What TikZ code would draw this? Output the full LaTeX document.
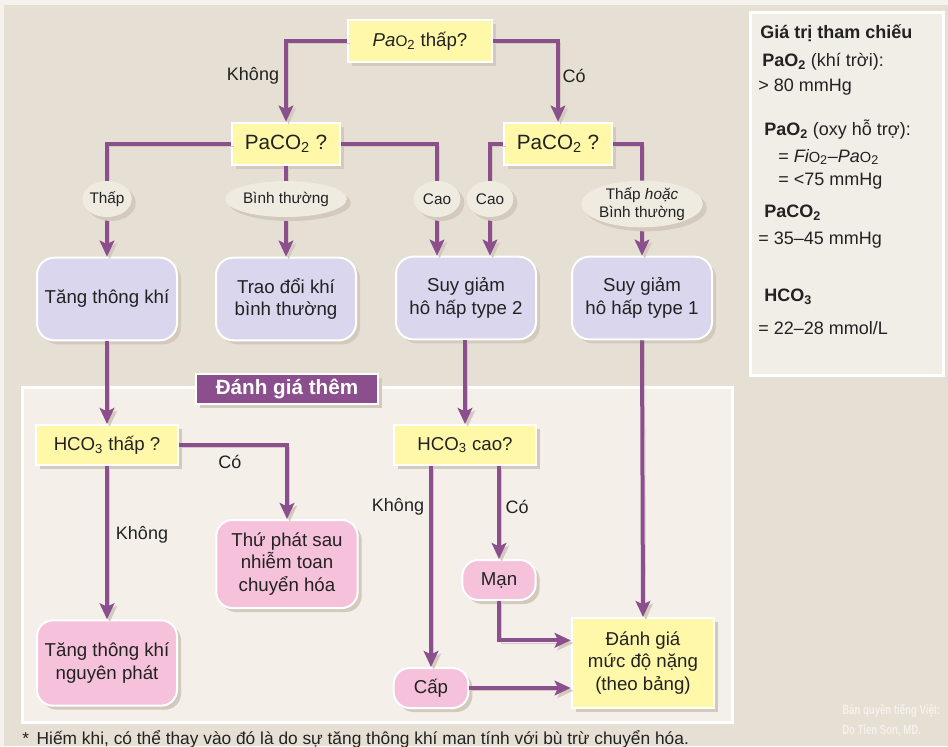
\documentclass[tikz,border=0pt]{standalone}
\usepackage{fontspec}
\setmainfont{Liberation Sans}
\usetikzlibrary{shapes.geometric,arrows.meta,shadows,calc}
\definecolor{bg}{HTML}{E6DFD3}
\definecolor{panel}{HTML}{F4EFE8}
\definecolor{pur}{HTML}{8C4F8E}
\definecolor{yel}{HTML}{FFF8A8}
\definecolor{lav}{HTML}{D9D6EE}
\definecolor{pnk}{HTML}{F6C1DA}
\definecolor{ellc}{HTML}{EFEBE1}
\definecolor{shdc}{HTML}{D3CABD}
\definecolor{refc}{HTML}{F1EDE7}
\definecolor{txt}{HTML}{222222}
\begin{document}
\begin{tikzpicture}[x=0.75pt,y=-0.75pt,
  every node/.style={text=txt},
  shd/.style={drop shadow={shadow xshift=3pt,shadow yshift=-3pt,fill=shdc,opacity=1}},
  ybox/.style={rectangle,fill=yel,draw=white,line width=1.5pt,shd,inner sep=0pt,align=center,font=\fontsize{14}{17}\selectfont},
  lbox/.style={rectangle,rounded corners=13pt,fill=lav,draw=white,line width=1.5pt,shd,inner sep=0pt,align=center,minimum width=105pt,minimum height=62pt,font=\fontsize{14}{17}\selectfont},
  pbox/.style={rectangle,rounded corners=12pt,fill=pnk,draw=white,line width=1.5pt,shd,inner sep=0pt,align=center,font=\fontsize{14}{17}\selectfont},
  ell/.style={ellipse,fill=ellc,shd,inner sep=0pt,align=center,font=\fontsize{11.5}{13.5}\selectfont},
  lab/.style={inner sep=0pt,font=\fontsize{13.5}{16}\selectfont},
  ref/.style={anchor=west,inner sep=0pt,font=\fontsize{13.5}{16}\selectfont},
  wm/.style={anchor=west,inner sep=0pt,text=white,opacity=0.6,font=\fontsize{10}{12}\bfseries\selectfont},
  arr/.style={draw=pur,line width=3pt,-{Stealth[length=12pt,width=11pt,inset=2.5pt]},
    preaction={draw=shdc,transform canvas={xshift=2pt,yshift=-2pt}}},
]
\useasboundingbox (0,0) rectangle (948,746);
\fill[white!60!bg] (0,0) rectangle (948,746);
\fill[bg] (4,5) rectangle (948,746);
% panels
\fill[white] (21,386) rectangle (734,724);
\fill[panel] (24,389) rectangle (731,721);
\fill[white] (749,11) rectangle (945,377);
\fill[refc] (752,14) rectangle (942,374);

% nodes
\node[ybox,minimum width=108pt,minimum height=31.5pt] (pao2) at (420,41) {{\itshape Pa}{\fontsize{11.5}{14}\selectfont O}\textsubscript{2} thấp?};
\node[ybox,minimum width=81pt,minimum height=32pt,font=\fontsize{15.5}{18}\selectfont] (paL) at (286,144) {PaCO\textsubscript{2} ?};
\node[ybox,minimum width=81pt,minimum height=32pt,font=\fontsize{15.5}{18}\selectfont] (paR) at (558,144) {PaCO\textsubscript{2} ?};
\node[lbox] (tang) at (107,299) {Tăng thông khí};
\node[lbox] (trao) at (286,299) {Trao đổi khí\\bình thường};
\node[lbox] (t2) at (466,298) {Suy giảm\\hô hấp type 2};
\node[lbox] (t1) at (642,298) {Suy giảm\\hô hấp type 1};
\node[ybox,minimum width=106pt,minimum height=30pt] (hcoT) at (107,445) {HCO\textsubscript{3} thấp ?};
\node[pbox,minimum width=106pt,minimum height=66pt] (thu) at (287,564) {Thứ phát sau\\nhiễm toan\\chuyển hóa};
\node[pbox,minimum width=105pt,minimum height=64pt] (nguyen) at (107,663) {Tăng thông khí\\nguyên phát};
\node[ybox,minimum width=106pt,minimum height=30pt] (hcoC) at (465,445) {HCO\textsubscript{3} cao?};
\node[pbox,minimum width=55pt,minimum height=30pt] (man) at (499,580) {Mạn};
\node[pbox,minimum width=56pt,minimum height=30pt] (cap) at (431,688) {Cấp};
\node[ybox,minimum width=107pt,minimum height=67.5pt] (danh) at (643,663) {Đánh giá\\mức độ nặng\\(theo bảng)};

% connectors
\draw[arr] (pao2.west) -| (paL.north);
\draw[arr] (pao2.east) -| (paR.north);
\draw[arr] (paL.west) -| (tang.north);
\draw[arr] (paL.south) -- (trao.north);
\draw[arr] (paL.east) -| ([xshift=-21.75pt]t2.north);
\draw[arr] (paR.west) -| ([xshift=18pt]t2.north);
\draw[arr] (paR.east) -| (t1.north);
\draw[arr] (tang.south) -- (hcoT.north);
\draw[arr] (hcoT.east) -| (thu.north);
\draw[arr] (hcoT.south) -- (nguyen.north);
\draw[arr] (t2.south -| hcoC.north) -- (hcoC.north);
\draw[arr] (hcoC.south -| cap.north) -- (cap.north);
\draw[arr] (hcoC.south -| man.north) -- (man.north);
\draw[arr] (man.south) |- ([yshift=17pt]danh.west);
\draw[arr] (cap.east) -- (cap.east -| danh.west);
\draw[arr] (t1.south) -- (danh.north);

% ellipse labels
\node[ell,minimum width=35pt,minimum height=27pt] (e1) at (107,199) {Thấp};
\node[ell,minimum width=90pt,minimum height=27pt] (e2) at (286,199) {Bình thường};
\node[ell,minimum width=35pt,minimum height=27pt] (e3) at (437,199) {Cao};
\node[ell,minimum width=35pt,minimum height=27pt] (e4) at (490,199) {Cao};
\node[ell,minimum width=88pt,minimum height=31pt] (e5) at (642,204) {Thấp \textit{hoặc}\\Bình thường};

% branch labels
\node[lab] (l1) at (253,76) {Không};
\node[lab] (l2) at (574,76) {Có};
\node[lab] (l3) at (230,462) {Có};
\node[lab] (l4) at (142,535) {Không};
\node[lab] (l5) at (398,507) {Không};
\node[lab] (l6) at (517,507) {Có};

% tab
\node[rectangle,fill=pur,draw=white,line width=1.5pt,minimum width=136pt,minimum height=22.5pt,text=white,font=\fontsize{15.5}{18}\bfseries\selectfont,drop shadow={shadow xshift=3pt,shadow yshift=-3pt,fill=shdc,opacity=1}] (tab) at (287,389) {Đánh giá thêm};

% reference box
\node[ref,font=\fontsize{13.5}{16}\bfseries\selectfont] (r1) at (760,33) {Giá trị tham chiếu};
\node[ref] (r2) at (762,62) {\textbf{PaO\textsubscript{2}} (khí trời):};
\node[ref] (r3) at (758,87) {> 80 mmHg};
\node[ref] (r4) at (764,130) {\textbf{PaO\textsubscript{2}} (oxy hỗ trợ):};
\node[ref] (r5) at (778,157) {= {\itshape Fi}{\fontsize{11}{13}\selectfont O}\textsubscript{2}–{\itshape Pa}{\fontsize{11}{13}\selectfont O}\textsubscript{2}};
\node[ref] (r6) at (778,181) {= <75 mmHg};
\node[ref] (r7) at (764,213) {\textbf{PaCO\textsubscript{2}}};
\node[ref] (r8) at (758,240) {= 35–45 mmHg};
\node[ref] (r9) at (764,297) {\textbf{HCO\textsubscript{3}}};
\node[ref] (r10) at (758,328) {= 22–28 mmol/L};

% footnote and watermark
\node[anchor=west,inner sep=0pt,font=\fontsize{13}{15}\selectfont] (fn) at (22,739) {*\, Hiếm khi, có thể thay vào đó là do sự tăng thông khí man tính với bù trừ chuyển hóa.};
\node[wm] (w1) at (842,711) {\scalebox{0.72}[1]{Bản quyền tiếng Việt:}};
\node[wm] (w2) at (842,731) {\scalebox{0.72}[1]{Do Tien Son, MD.}};
\end{tikzpicture}
\end{document}
